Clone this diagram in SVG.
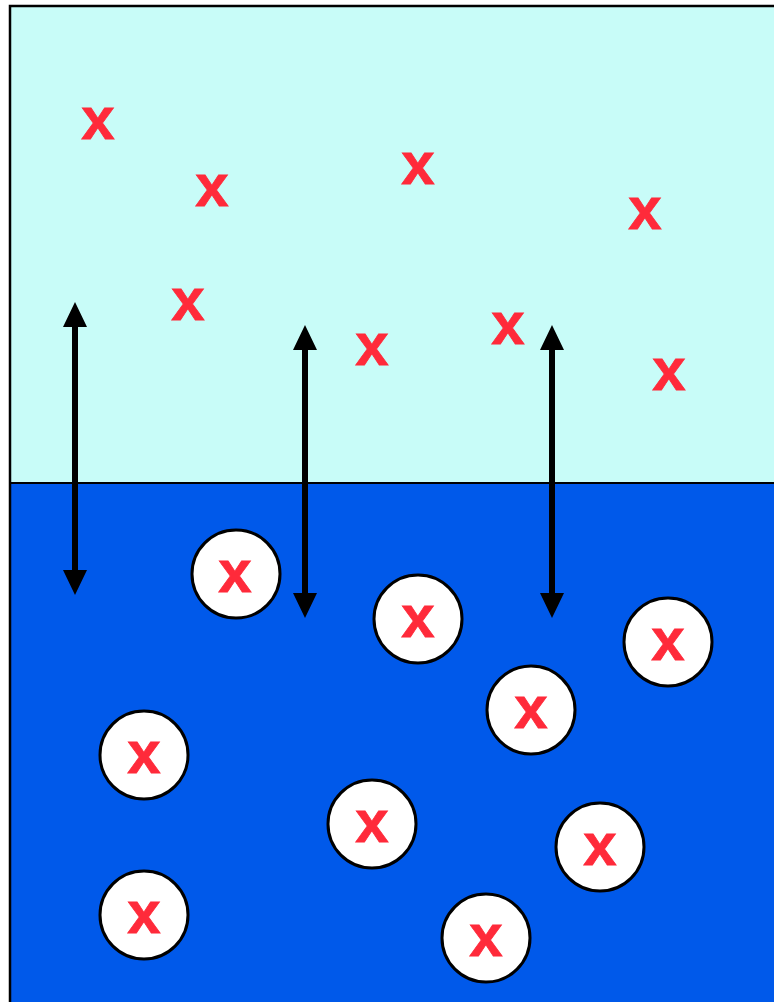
<svg xmlns="http://www.w3.org/2000/svg" width="774" height="1002" viewBox="0 0 774 1002">
<style>
.x{font-family:"Liberation Sans",Arial,sans-serif;font-weight:bold;font-size:60px;fill:#ff2a3a;text-anchor:middle;stroke:#ff2a3a;stroke-width:0.8}
.c{fill:#ffffff;stroke:#000;stroke-width:3}
.arr{stroke:#000;stroke-width:6;fill:none}
</style>
<g id="upper">
<rect x="10" y="6" width="800" height="477" fill="#c8fcf8"/>
</g>
<g id="lower">
<rect x="10" y="483" width="800" height="600" fill="#0059ea"/>
</g>
<g id="frame">
<rect x="10" y="6" width="800" height="1100" fill="none" stroke="#000" stroke-width="2.5"/>
<line x1="10" y1="483" x2="810" y2="483" stroke="#000" stroke-width="2"/>
</g>
<g id="free">
<text class="x" x="98" y="139">x</text>
<text class="x" x="212" y="206">x</text>
<text class="x" x="418" y="184">x</text>
<text class="x" x="645" y="229">x</text>
<text class="x" x="188" y="320">x</text>
<text class="x" x="372" y="365">x</text>
<text class="x" x="508" y="344">x</text>
<text class="x" x="669" y="390">x</text>
</g>
<g id="bound">
<g id="b1"><circle class="c" cx="236" cy="574" r="44"/><text class="x" x="235" y="592">x</text></g>
<g id="b2"><circle class="c" cx="418" cy="619" r="44"/><text class="x" x="418" y="637">x</text></g>
<g id="b3"><circle class="c" cx="668" cy="642" r="44"/><text class="x" x="668" y="660">x</text></g>
<g id="b4"><circle class="c" cx="531" cy="710" r="44"/><text class="x" x="531" y="728">x</text></g>
<g id="b5"><circle class="c" cx="144" cy="755" r="44"/><text class="x" x="144" y="773">x</text></g>
<g id="b6"><circle class="c" cx="372" cy="824" r="44"/><text class="x" x="372" y="842">x</text></g>
<g id="b7"><circle class="c" cx="600" cy="847" r="44"/><text class="x" x="600" y="865">x</text></g>
<g id="b8"><circle class="c" cx="144" cy="915" r="44"/><text class="x" x="144" y="933">x</text></g>
<g id="b9"><circle class="c" cx="486" cy="938" r="44"/><text class="x" x="486" y="956">x</text></g>
</g>
<g id="connectors">
<line class="arr" x1="75" y1="322" x2="75" y2="575"/>
<path d="M63,327 L75,302 L87,327 Z M63,570 L75,595 L87,570 Z" fill="#000"/>
<line class="arr" x1="305" y1="345" x2="305" y2="598"/>
<path d="M293,350 L305,325 L317,350 Z M293,593 L305,618 L317,593 Z" fill="#000"/>
<line class="arr" x1="552" y1="345" x2="552" y2="598"/>
<path d="M540,350 L552,325 L564,350 Z M540,593 L552,618 L564,593 Z" fill="#000"/>
</g>
</svg>
